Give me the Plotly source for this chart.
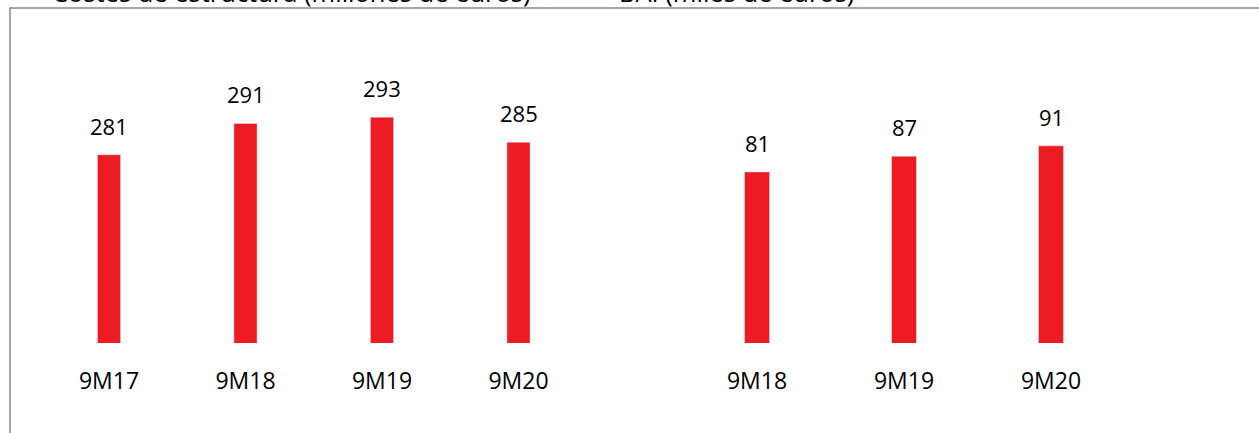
import plotly.graph_objects as go

# --- Data ---
periods_left = ["9M17", "9M18", "9M19", "9M20"]
values_left = [281, 291, 293, 285]
periods_right = ["9M18", "9M19", "9M20"]
values_right = [81, 87, 91]
titles = ["Costes de estructura (millones de euros)", "BAI (miles de euros)"]

BAR_COLOR = "#ED1C24"
FONT = "Open Sans, sans-serif"
W, H = 1259, 433
BASE = 343          # pixel row of the bar baseline
BOTTOM = H - BASE


def px_x(p):
    # pixel -> paper x
    return p / W


def px_y(p):
    # pixel from top -> paper y (plot area spans 0..BASE)
    return (BASE - p) / BASE


fig = go.Figure()

fig.add_trace(go.Bar(x=periods_left, y=values_left, marker_color=BAR_COLOR,
                     xaxis="x", yaxis="y", hoverinfo="x+y"))
fig.add_trace(go.Bar(x=periods_right, y=values_right, marker_color=BAR_COLOR,
                     xaxis="x2", yaxis="y2", hoverinfo="x+y"))

label_font = dict(family=FONT, size=22, color="black")
annotations = []
for cat, val in zip(periods_left, values_left):
    annotations.append(dict(x=cat, y=val, xref="x", yref="y", text=str(val),
                            showarrow=False, yanchor="bottom", yshift=12,
                            font=label_font))
for cat, val in zip(periods_right, values_right):
    annotations.append(dict(x=cat, y=val, xref="x2", yref="y2", text=str(val),
                            showarrow=False, yanchor="bottom", yshift=12,
                            font=label_font))

# titles, mostly cropped off above the picture
for title, left in zip(titles, [50, 617]):
    annotations.append(dict(x=px_x(left), y=px_y(11), xref="paper", yref="paper",
                            xanchor="left", yanchor="bottom", showarrow=False,
                            text=title,
                            font=dict(family=FONT, size=25.5, color="black")))

axis_common = dict(showgrid=False, zeroline=False, showline=False, ticks="",
                   ticklabelstandoff=22,
                   tickfont=dict(family=FONT, size=23, color="black"))

fig.update_layout(
    width=W, height=H,
    paper_bgcolor="white", plot_bgcolor="white",
    showlegend=False,
    bargap=0.83,
    margin=dict(l=0, r=0, t=0, b=BOTTOM),
    xaxis=dict(domain=[px_x(40.75), px_x(586.75)], anchor="y", **axis_common),
    xaxis2=dict(domain=[px_x(683.5), px_x(1124.5)], anchor="y2", **axis_common),
    yaxis=dict(range=[220.9, 330.4], visible=False, anchor="x"),
    yaxis2=dict(range=[15.3, 147.0], visible=False, anchor="x2"),
    annotations=annotations,
    shapes=[dict(type="rect", xref="paper", yref="paper",
                 x0=px_x(10), x1=1.05, y0=-1, y1=px_y(8),
                 line=dict(color="#8a8a8a", width=1.5), fillcolor="rgba(0,0,0,0)",
                 layer="below")],
)

fig.write_html("out.html", config={"displayModeBar": False},
               post_script="document.body.style.margin='0';")
